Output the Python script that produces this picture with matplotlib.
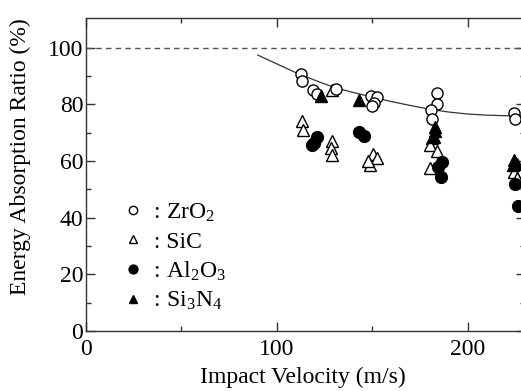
import matplotlib
matplotlib.use('Agg')
import matplotlib.pyplot as plt
import numpy as np

plt.rcParams['font.family'] = ['Liberation Serif', 'DejaVu Serif']
plt.rcParams['mathtext.fontset'] = 'custom'
plt.rcParams['mathtext.rm'] = 'Liberation Serif'
plt.rcParams['mathtext.it'] = 'Liberation Serif'
plt.rcParams['mathtext.default'] = 'rm'

# data (impact velocity m/s, energy absorption ratio %)
zro2_v = [112.7, 113.0, 119.0, 121.0, 131.0, 149.5, 152.5, 151.0, 150.0, 184.0, 184.0, 181.0, 181.5, 224.0, 225.0]
zro2_r = [90.7, 88.3, 85.0, 83.5, 85.5, 83.0, 82.5, 80.5, 79.5, 84.0, 80.0, 78.0, 75.0, 77.0, 74.8]

sic_v = [113.0, 113.5, 129.0, 129.0, 128.5, 129.0, 150.5, 152.5, 149.0, 148.0, 181.5, 180.0, 184.0, 180.5, 224.0, 226.0]
sic_r = [74.0, 71.0, 85.0, 67.0, 64.5, 62.0, 62.5, 61.0, 58.6, 60.0, 68.0, 65.5, 63.5, 57.5, 56.0, 54.0]

al2o3_v = [121.0, 119.5, 118.5, 143.0, 145.5, 186.5, 184.5, 186.0, 225.0, 226.5]
al2o3_r = [68.5, 66.5, 65.5, 70.3, 69.0, 59.5, 58.0, 54.5, 52.0, 44.0]

si3n4_v = [123.0, 143.0, 183.0, 183.0, 182.5, 224.0, 223.5, 226.0]
si3n4_r = [83.0, 81.5, 72.0, 70.5, 68.5, 60.5, 58.5, 59.0]

# trend curve as drawn in the figure
curve_v = [90, 100, 110, 120, 130, 140, 150, 160, 170, 180, 190, 200, 210, 220, 230]
curve_r = [97.4, 94.3, 91.2, 88.5, 86.0, 84.2, 82.6, 81.0, 79.6, 78.3, 77.3, 76.6, 76.2, 76.0, 76.0]

fig = plt.figure(figsize=(5.21, 3.91), dpi=100)
ax = fig.add_axes([0.165, 0.1535, 0.8426, 0.8005])

ax.axhline(100, color='#555555', lw=1.0, ls=(0, (4, 3)))
ax.plot(curve_v, curve_r, color='#333333', lw=0.9)

ms = 8
ax.plot(sic_v, sic_r, ls='none', marker='^', ms=ms, mfc='white', mec='black', mew=1.0, label=' : SiC')
ax.plot(zro2_v, zro2_r, ls='none', marker='o', ms=ms, mfc='white', mec='black', mew=1.0, label=' : ZrO$_2$')
ax.plot(al2o3_v, al2o3_r, ls='none', marker='o', ms=ms + 0.5, mfc='black', mec='black', label=' : Al$_2$O$_3$')
ax.plot(si3n4_v, si3n4_r, ls='none', marker='^', ms=ms, mfc='black', mec='black', label=' : Si$_3$N$_4$')

h, l = ax.get_legend_handles_labels()
order = [1, 0, 2, 3]
leg = ax.legend([h[i] for i in order], [l[i] for i in order], loc='upper left',
                bbox_to_anchor=(0.08, 0.413), frameon=False, fontsize=17,
                markerscale=0.75, handlelength=1.0, handletextpad=0.15,
                labelspacing=0.3, borderpad=0, borderaxespad=0)

ax.set_xlim(0, 230)
ax.set_ylim(0, 110.5)
ax.set_xticks([0, 100, 200])
ax.set_xticks([50, 150], minor=True)
ax.set_yticks([0, 20, 40, 60, 80, 100])
ax.set_yticks([10, 30, 50, 70, 90], minor=True)
ax.tick_params(which='both', direction='in', top=True, right=True, labelsize=17,
               color='#333333', width=1.0)
ax.tick_params(which='major', length=6.5)
ax.tick_params(which='minor', length=3.5)
ax.tick_params(axis='y', pad=2)
ax.tick_params(axis='x', pad=6)
for s in ax.spines.values():
    s.set_color('#333333')
    s.set_linewidth(1.0)

ax.set_xlabel('Impact Velocity (m/s)', fontsize=17)
ax.set_ylabel('Energy Absorption Ratio (%)', fontsize=17)
ax.xaxis.set_label_coords(0.494, -0.115)
ax.yaxis.set_label_coords(-0.125, 0.556)

fig.savefig('out.png', dpi=100)
